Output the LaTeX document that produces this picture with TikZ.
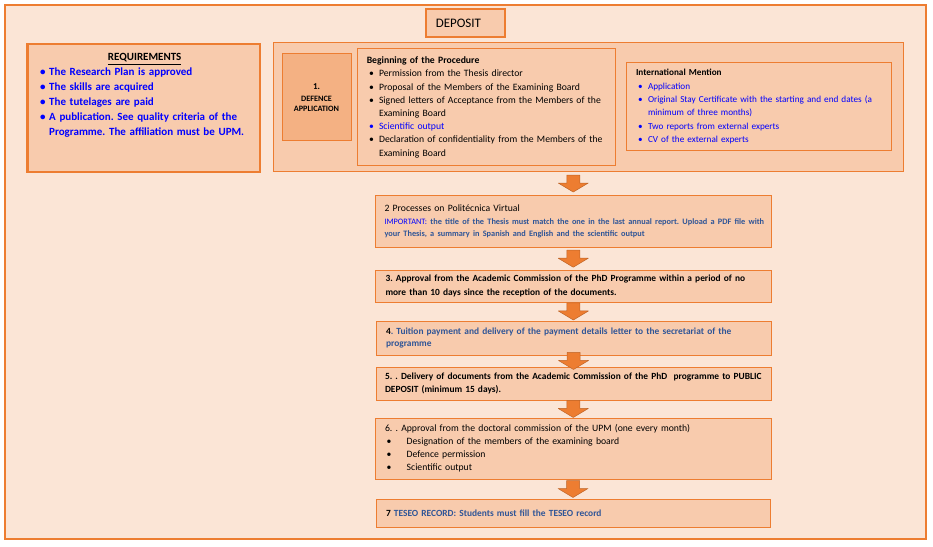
\documentclass[tikz,border=0pt]{standalone}
\usepackage{fontspec}
\setmainfont{Carlito}
\frenchspacing
\usepackage{tikz}
\usetikzlibrary{calc}
\definecolor{deporange}{HTML}{ED7D31}
\definecolor{deppeach}{HTML}{F8CBAD}
\definecolor{depback}{HTML}{FBE5D6}
\definecolor{depdark}{HTML}{F4B183}
\definecolor{reqblue}{HTML}{0000FF}
\definecolor{stepblue}{HTML}{2F5597}
\newcommand{\blt}[2]{\hspace*{#1}\makebox[#2][l]{\textbullet}}
\newcommand{\fsz}[2]{\fontsize{#1}{#2}\selectfont}
\tikzset{
 dep frame/.style={draw=deporange,line width=2pt,fill=depback,inner sep=0pt},
 dep box/.style={draw=deporange,line width=1pt,fill=deppeach,align=left,inner ysep=0pt},
 dep step/.style={dep box,line width=.9pt},
 dep title/.style={dep box,line width=2pt},
 pics/dep arrow/.style={code={
   \draw[fill=deporange,draw=deporange!80!black,line width=.5pt,line join=round]
     (-6.5,8.5)--(6.5,8.5)--(6.5,.5)--(15,.5)--(0,-8.5)--(-15,.5)--(-6.5,.5)--cycle;
 }}
}
\begin{document}
\begin{tikzpicture}[x=1pt,y=1pt]
\useasboundingbox (0,0) rectangle (933,546);
\node[dep frame,minimum width=921pt,minimum height=534pt] (frame) at (465.5,274) {};
\node[dep title,minimum height=27.5pt,text width=59pt,inner xsep=10.25pt,font=\fsz{13}{15}]
  (deposit) at (465.25,522.75) {DEPOSIT};
\node[dep box,line width=2.5pt,minimum width=232.5pt,minimum height=128pt] (req) at (143.75,438) {};
\node[align=left,text width=210pt,inner sep=0pt,anchor=base west,text=reqblue,
  font=\fsz{11}{15}\bfseries] (reqlist) at (39.5,485) {%
  \makebox[210pt][c]{\color{black}\underline{REQUIREMENTS}}\\
  \blt{.5pt}{9pt}The Research Plan is approved\\
  \blt{.5pt}{9pt}The skills are acquired\\
  \blt{.5pt}{9pt}The tutelages are paid\\
  \blt{.5pt}{9pt}A publication. See quality criteria of the\\
  \hspace*{9.5pt}Programme. The affiliation must be UPM.};
\node[dep box,minimum width=630pt,minimum height=129pt] (defence) at (588,438.5) {};
\node[dep box,fill=depdark,align=center,minimum width=69pt,minimum height=87pt,
  font=\fsz{8.2}{10}\bfseries] (apply) at (316.5,448.5) {{\fsz{9}{10}1.}\\[1.5pt]DEFENCE\\APPLICATION};
\node[dep box,minimum height=116.5pt,text width=239pt,inner xsep=9.75pt,font=\fsz{9.7}{13.2}]
  (begin) at (486.25,438.75) {%
  {\bfseries Beginning of the Procedure}\\
  \blt{2.3pt}{10pt}Permission from the Thesis director\\
  \blt{2.3pt}{10pt}Proposal of the Members of the Examining Board\\
  \blt{2.3pt}{10pt}Signed letters of Acceptance from the Members of the\\
  \hspace*{12.3pt}Examining Board\\
  {\color{reqblue}\blt{2.3pt}{10pt}Scientific output}\\
  \blt{2.3pt}{10pt}Declaration of confidentiality from the Members of the\\
  \hspace*{12.3pt}Examining Board};
\node[dep box,minimum height=87.5pt,text width=245.5pt,inner xsep=10pt,font=\fsz{9.2}{13.3}]
  (intl) at (758.75,439.25) {%
  {\bfseries International Mention}\\
  {\color{reqblue}\blt{2pt}{10pt}Application\\
  \mbox{\blt{2pt}{10pt}Original Stay Certificate with the starting and end dates (a}\\
  \hspace*{12pt}minimum of three months)\\
  \blt{2pt}{10pt}Two reports from external experts\\
  \blt{2pt}{10pt}CV of the external experts}};
\node[dep step,minimum height=52.5pt,text width=377.5pt,inner xsep=9.5pt,font=\fsz{9.7}{12.7}]
  (s2) at (573.25,324.75) {%
  2 Processes on Politécnica Virtual\\
  \mbox{\fsz{8.3}{11.7}{\color{reqblue}IMPORTANT:} \bfseries\color{stepblue}the title of the Thesis must match the one in the last annual report. Upload a PDF file with}\\[-1pt]
  {\fsz{8.3}{11.7}\bfseries\color{stepblue}your Thesis, a summary in Spanish and English and the scientific output}};
\node[dep step,minimum height=32pt,text width=375.5pt,inner xsep=10.5pt,font=\fsz{9.4}{14}\bfseries]
  (s3) at (573.25,260) {%
  \mbox{3. Approval from the Academic Commission of the PhD Programme within a period of no}\\
  more than 10 days since the reception of the documents.};
\node[dep step,minimum height=34pt,text width=375pt,inner xsep=10pt,font=\fsz{9.4}{12.7}\bfseries]
  (s4) at (573.5,208) {%
  \mbox{4{\color{stepblue}. Tuition payment and delivery of the payment details letter to the secretariat of the}}\\
  {\color{stepblue}programme}};
\node[dep step,minimum height=33pt,text width=377pt,inner xsep=9pt,font=\fsz{9.4}{12.3}\bfseries]
  (s5) at (573.5,162.5) {%
  \mbox{5. . Delivery of documents from the Academic Commission of the PhD\ \ programme to PUBLIC}\\
  DEPOSIT (minimum 15 days).};
\node[dep step,minimum height=61pt,text width=376pt,inner xsep=10pt,font=\fsz{9.7}{13}]
  (s6) at (573,97.5) {%
  6. . Approval from the doctoral commission of the UPM (one every month)\\
  \blt{1.7pt}{20pt}Designation of the members of the examining board\\
  \blt{1.7pt}{20pt}Defence permission\\
  \blt{1.7pt}{20pt}Scientific output};
\node[dep step,minimum height=28pt,text width=374pt,inner xsep=10pt,font=\fsz{9.4}{12}\bfseries]
  (s7) at (573,33) {7 {\color{stepblue}TESEO RECORD: Students must fill the TESEO record}};
\pic at ($(defence.south -| s2.north)!.5!(s2.north)$) {dep arrow};
\pic at ($(s2.south)!.5!(s3.north)$) {dep arrow};
\pic at ($(s3.south)!.5!(s4.north)$) {dep arrow};
\pic at ($(s4.south)!.5!(s5.north)$) {dep arrow};
\pic at ($(s5.south)!.5!(s6.north)$) {dep arrow};
\pic at ($(s6.south)!.5!(s7.north)$) {dep arrow};
\end{tikzpicture}
\end{document}
